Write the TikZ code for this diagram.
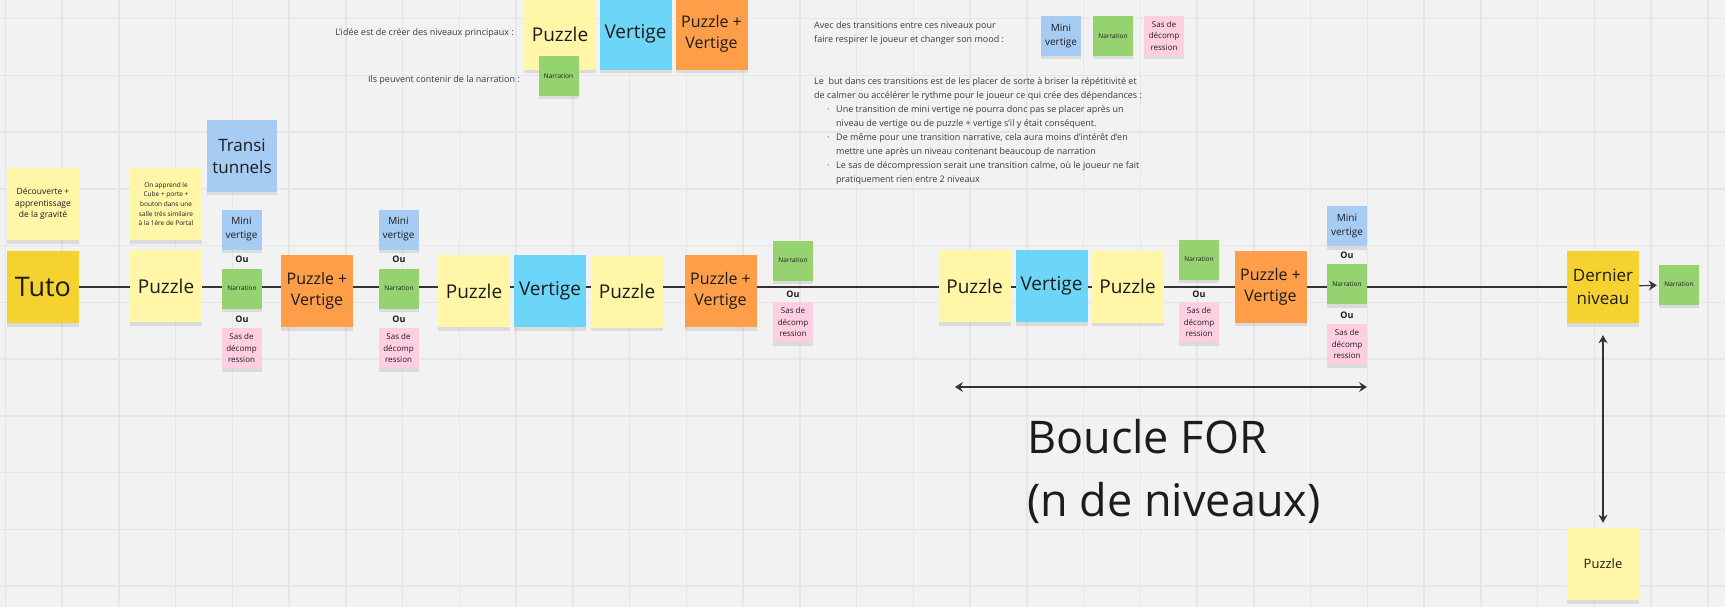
\documentclass[tikz,border=0pt]{standalone}
\usepackage{fontspec}
\setmainfont{Open Sans}
\usepackage{xcolor}
\usetikzlibrary{arrows.meta,positioning,backgrounds,shadows}
\definecolor{boardgray}{HTML}{F2F2F2}
\definecolor{gridgray}{HTML}{E6E6E6}
\definecolor{inkgray}{HTML}{1C1C1C}
\definecolor{textgray}{HTML}{3A3A3A}
\definecolor{pzyel}{HTML}{FFF6A8}
\definecolor{goldyel}{HTML}{F6D230}
\definecolor{vtcyan}{HTML}{6DD6F8}
\definecolor{pvorange}{HTML}{FF9E48}
\definecolor{mvblue}{HTML}{A7CCF4}
\definecolor{nargreen}{HTML}{94D36F}
\definecolor{saspink}{HTML}{FFCFE1}

\begin{document}
\begin{tikzpicture}[x=1pt, y=-1pt, >=Stealth,
  note/.style={minimum width=72pt, minimum height=72pt, inner sep=1pt, align=center, text=inkgray,
    drop shadow={shadow xshift=0pt, shadow yshift=-3.5pt, opacity=.2}},
  smallnote/.style={note, minimum width=40pt, minimum height=40pt},
  bigtxt/.style={font=\fontsize{19}{22}\selectfont},
  pvtxt/.style={font=\fontsize{16}{21}\selectfont},
  mvtxt/.style={font=\fontsize{10}{14}\selectfont},
  nartxt/.style={font=\fontsize{6.5}{8}\selectfont},
  sastxt/.style={font=\fontsize{8}{11.3}\selectfont},
  outxt/.style={font=\fontsize{9}{10}\selectfont\bfseries, inner sep=0, text=inkgray},
  remark/.style={inner sep=0, text=textgray, font=\fontsize{9}{14}\selectfont},
  link/.style={draw=inkgray!90, line width=1.1pt},
  tips/.style={-{Stealth[length=8pt, width=10pt, inset=2.5pt]}}
]
  % Board
  \useasboundingbox (0,0) rectangle (1725,607);
  \begin{scope}[on background layer]
    \fill[boardgray] (0,0) rectangle (1725,607);
    \foreach \i in {0,...,30}
      \draw[gridgray, line width=1.6pt] ({5.3+56.75*\i},0) -- ++(0,607);
    \foreach \j in {0,...,10}
      \draw[gridgray, line width=1.6pt] (0,{18.6+56.75*\j}) -- ++(1725,0);
  \end{scope}

  % Top: main levels
  \node[remark, anchor=east] (idee) at (514,33) {L'idée est de créer des niveaux principaux :};
  \node[note, fill=pzyel, bigtxt] (pzt) at (560,34) {Puzzle};
  \node[note, fill=vtcyan, bigtxt] (vtt) at (635.5,34) {Vertige};
  \node[note, fill=pvorange, pvtxt] (pvt) at (711.5,34) {Puzzle +\\Vertige};
  \node[remark, anchor=east] (ils) at (520,80) {Ils peuvent contenir de la narration :};
  \node[smallnote, fill=nargreen, nartxt] (nart) at (558.5,76) {Narration};

  % Top: transitions
  \node[remark, anchor=west, align=left] (avec) at (814,33.5)
    {Avec des transitions entre ces niveaux pour\\faire respirer le joueur et changer son mood :};
  \node[smallnote, fill=mvblue, mvtxt] (mvt) at (1061,36) {Mini\\vertige};
  \node[smallnote, fill=nargreen, nartxt] (nt) at (1113,36) {Narration};
  \node[smallnote, fill=saspink, sastxt] (st) at (1164,36) {Sas de\\décomp\\ression};
  \node[remark, anchor=north west, align=left] (but) at (814,77)
    {Le\ \ but dans ces transitions est de les placer de sorte à briser la répétitivité et\\
     de calmer ou accélérer le rythme pour le joueur ce qui crée des dépendances :\\
     \hspace*{13pt}\makebox[9pt][l]{·}Une transition de mini vertige ne pourra donc pas se placer après un\\
     \hspace*{22pt}niveau de vertige ou de puzzle + vertige s'il y était conséquent.\\
     \hspace*{13pt}\makebox[9pt][l]{·}De même pour une transition narrative, cela aura moins d'intérêt d'en\\
     \hspace*{22pt}mettre une après un niveau contenant beaucoup de narration\\
     \hspace*{13pt}\makebox[9pt][l]{·}Le sas de décompression serait une transition calme, où le joueur ne fait\\
     \hspace*{22pt}pratiquement rien entre 2 niveaux};

  % Start
  \node[note, fill=pzyel, font=\fontsize{8.5}{11.7}\selectfont] (decou) at (43,204)
    {Découverte +\\apprentissage\\de la gravité};
  \node[note, fill=goldyel, font=\fontsize{27}{30}\selectfont] (tuto) at (43,287) {Tuto};
  \node[note, fill=pzyel, font=\fontsize{6.5}{9.6}\selectfont] (cube) at (166,204)
    {On apprend le\\Cube + porte +\\bouton dans une\\salle très similaire\\à la 1ère de Portal};
  \node[note, fill=pzyel, bigtxt] (pz1) at (166,286) {Puzzle};
  \node[note, fill=mvblue, minimum width=70pt, font=\fontsize{17}{22}\selectfont] (transi) at (242,156)
    {Transi\\tunnels};

  % Transition 1
  \node[smallnote, fill=mvblue, mvtxt] (mv1) at (241.5,229.5) {Mini\\vertige};
  \node[outxt] (ou1a) at (242,259) {Ou};
  \node[smallnote, fill=nargreen, nartxt] (nar1) at (242,288.5) {Narration};
  \node[outxt] (ou1b) at (242,319) {Ou};
  \node[smallnote, fill=saspink, sastxt] (sas1) at (241.5,348) {Sas de\\décomp\\ression};
  \node[note, fill=pvorange, pvtxt] (pv1) at (317,291) {Puzzle +\\Vertige};

  % Transition 2
  \node[smallnote, fill=mvblue, mvtxt] (mv2) at (398.5,229.5) {Mini\\vertige};
  \node[outxt] (ou2a) at (399,259) {Ou};
  \node[smallnote, fill=nargreen, nartxt] (nar2) at (399,288.5) {Narration};
  \node[outxt] (ou2b) at (399,319) {Ou};
  \node[smallnote, fill=saspink, sastxt] (sas2) at (398.5,348) {Sas de\\décomp\\ression};

  % Middle block
  \node[note, fill=pzyel, bigtxt] (pz2) at (474,291) {Puzzle};
  \node[note, fill=vtcyan, bigtxt] (vt2) at (550,291) {Vertige};
  \node[note, fill=pzyel, bigtxt] (pz3) at (627,291.5) {Puzzle};
  \node[note, fill=pvorange, pvtxt] (pv2) at (720.5,291) {Puzzle +\\Vertige};
  \node[smallnote, fill=nargreen, nartxt] (nar3) at (793,260.5) {Narration};
  \node[outxt] (ou3) at (793,294) {Ou};
  \node[smallnote, fill=saspink, sastxt] (sas3) at (793,322) {Sas de\\décomp\\ression};

  % Loop block
  \node[note, fill=pzyel, bigtxt] (pz4) at (974.5,286) {Puzzle};
  \node[note, fill=vtcyan, bigtxt] (vt3) at (1051.5,286) {Vertige};
  \node[note, fill=pzyel, bigtxt] (pz5) at (1127.5,286.5) {Puzzle};
  \node[smallnote, fill=nargreen, nartxt] (nar4) at (1199,259.5) {Narration};
  \node[outxt] (ou4) at (1199,294) {Ou};
  \node[smallnote, fill=saspink, sastxt] (sas4) at (1199,322) {Sas de\\décomp\\ression};
  \node[note, fill=pvorange, pvtxt] (pv3) at (1270.5,286.5) {Puzzle +\\Vertige};
  \node[smallnote, fill=mvblue, mvtxt] (mv3) at (1347,226) {Mini\\vertige};
  \node[outxt] (ou5a) at (1347,255) {Ou};
  \node[smallnote, fill=nargreen, nartxt] (nar5) at (1347,284) {Narration};
  \node[outxt] (ou5b) at (1347,315) {Ou};
  \node[smallnote, fill=saspink, sastxt] (sas5) at (1347,344) {Sas de\\décomp\\ression};

  % End
  \node[note, fill=goldyel, font=\fontsize{17}{22.5}\selectfont] (dern) at (1603,287) {Dernier\\niveau};
  \node[smallnote, fill=nargreen, nartxt] (nar6) at (1679,284.5) {Narration};
  \node[note, fill=pzyel, font=\fontsize{13}{16}\selectfont] (pzend) at (1603,564) {Puzzle};

  % Main line
  \begin{scope}[on background layer]
    \draw[link] (tuto.east) -- (dern.west);
  \end{scope}
  \draw[link, tips, shorten >=2pt] (dern) -- (nar6);
  \draw[link, {Stealth[length=8pt, width=9pt, inset=2.5pt]}-{Stealth[length=8pt, width=9pt, inset=2.5pt]},
    shorten <=12pt, shorten >=5pt] (dern.south) -- (pzend.north);

  % Loop
  \coordinate (loopL) at (955,387);
  \coordinate (loopR) at (1367,387);
  \draw[link, {Stealth[length=8pt, width=10pt, inset=3pt]}-{Stealth[length=8pt, width=10pt, inset=3pt]}]
    (loopL) -- (loopR);
  \node[anchor=west, align=left, inner sep=0, text=inkgray, font=\fontsize{45}{63}\selectfont] (boucle) at (1027,471)
    {Boucle FOR\\(n de niveaux)};
\end{tikzpicture}
\end{document}
